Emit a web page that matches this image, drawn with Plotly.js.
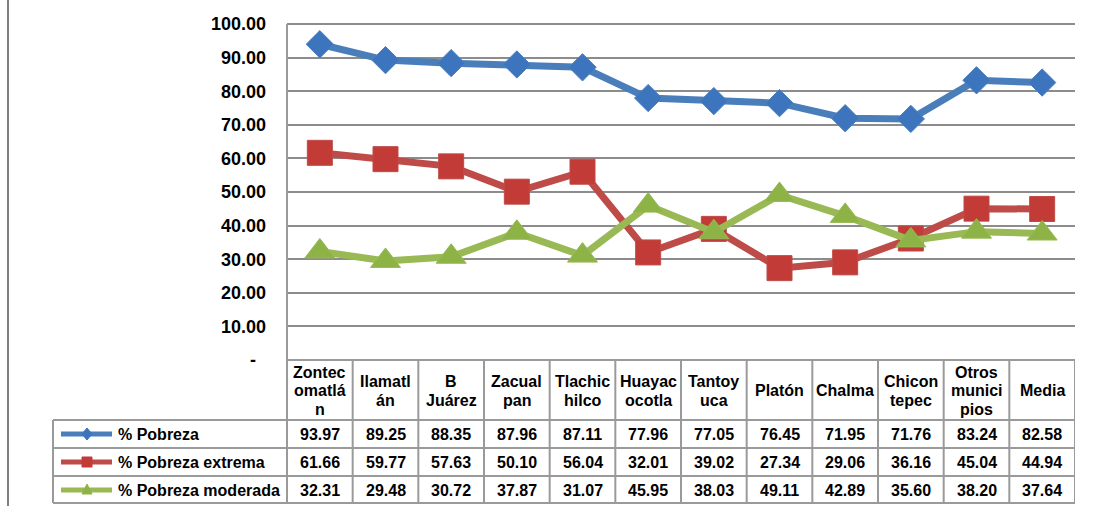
<!DOCTYPE html>
<html>
<head>
<meta charset="utf-8">
<script src="https://cdn.plot.ly/plotly-3.0.1.min.js"></script>
<style>html,body{margin:0;padding:0;background:#fff;}#chart{width:1093px;height:506px;}</style>
</head>
<body>
<div id="chart"></div>
<script>
const categories = ["Zontec<br>omatlá<br>n", "Ilamatl<br>án", "B<br>Juárez", "Zacual<br>pan", "Tlachic<br>hilco", "Huayac<br>ocotla", "Tantoy<br>uca", "Platón", "Chalma", "Chicon<br>tepec", "Otros<br>munici<br>pios", "Media"];
const seriesNames = ["% Pobreza", "% Pobreza extrema", "% Pobreza moderada"];
const pobreza  = [93.97, 89.25, 88.35, 87.96, 87.11, 77.96, 77.05, 76.45, 71.95, 71.76, 83.24, 82.58];
const extrema  = [61.66, 59.77, 57.63, 50.10, 56.04, 32.01, 39.02, 27.34, 29.06, 36.16, 45.04, 44.94];
const moderada = [32.31, 29.48, 30.72, 37.87, 31.07, 45.95, 38.03, 49.11, 42.89, 35.60, 38.20, 37.64];
const yTickVals = [0, 10, 20, 30, 40, 50, 60, 70, 80, 90, 100];
const yTickText = ["-\u00a0\u00a0", "10.00", "20.00", "30.00", "40.00", "50.00", "60.00", "70.00", "80.00", "90.00", "100.00"];

const W = 1093, H = 506;
const PL = 287, PR = 1075, PT = 24, PB = 360;
const px = v => (v - PL) / (PR - PL);
const py = v => (PB - v) / (PB - PT);
const FONT = "Liberation Sans, Arial, sans-serif";
const GRID = "#8c8c8c";
const TBL = "#9a9a9a";

const colors = ["#4A7EBB", "#BE4B48", "#98B954"];
const mColors = ["#3D74BE", "#C23B36", "#8DB347"];
const symbols = ["diamond", "square", "triangle-up"];
const msizes = [21, 25, 26];
const allSeries = [pobreza, extrema, moderada];
const idx = categories.map((c, i) => i);

const traces = allSeries.map((s, k) => ({
  type: "scatter", mode: "lines+markers", x: idx, y: s, name: seriesNames[k],
  line: {color: colors[k], width: 7},
  marker: {symbol: symbols[k], size: msizes[k], color: mColors[k], line: {color: colors[k], width: 1}},
  cliponaxis: false, hoverinfo: "skip"
}));

const shapes = [];
const annotations = [];
shapes.push({type: "line", xref: "paper", yref: "paper", x0: 0, x1: 1, y0: 1, y1: 1, line: {color: GRID, width: 2}});
shapes.push({type: "line", xref: "paper", yref: "paper", x0: 0, x1: 0, y0: 1, y1: py(503), line: {color: TBL, width: 2}});
shapes.push({type: "line", xref: "paper", yref: "paper", x0: 0, x1: 1, y0: 0, y1: 0, line: {color: TBL, width: 2}});
[420, 448, 476, 503].forEach(r => shapes.push({type: "line", xref: "paper", yref: "paper", x0: px(53), x1: 1, y0: py(r), y1: py(r), line: {color: TBL, width: 2}}));
shapes.push({type: "line", xref: "paper", yref: "paper", x0: px(53), x1: px(53), y0: py(420), y1: py(503), line: {color: TBL, width: 2}});
idx.forEach(i => shapes.push({type: "line", xref: "x", yref: "paper", x0: i + 0.5, x1: i + 0.5, y0: 0, y1: py(503), line: {color: TBL, width: 2}}));
shapes.push({type: "line", xref: "paper", yref: "paper", x0: px(8), x1: px(8), y0: py(0), y1: py(506), line: {color: "#808080", width: 2}});

const headerCenter = 391, lineH = 18.5;
categories.forEach((c, i) => {
  const lines = c.split("<br>");
  lines.forEach((t, j) => {
    const cy = headerCenter + (j - (lines.length - 1) / 2) * lineH;
    annotations.push({xref: "x", yref: "paper", x: i, y: py(cy), text: "<b>" + t + "</b>", showarrow: false,
      xanchor: "center", yanchor: "middle", font: {family: FONT, size: 16, color: "#000"}});
  });
});
const rowCenters = [434, 462, 490];
allSeries.forEach((s, k) => {
  s.forEach((v, i) => annotations.push({xref: "x", yref: "paper", x: i, y: py(rowCenters[k]), text: "<b>" + v.toFixed(2) + "</b>",
    showarrow: false, xanchor: "center", yanchor: "middle", font: {family: FONT, size: 16, color: "#000"}}));
  annotations.push({xref: "paper", yref: "paper", x: px(116), y: py(rowCenters[k]), text: "<b>" + seriesNames[k] + "</b>",
    showarrow: false, xanchor: "left", yanchor: "middle", font: {family: FONT, size: 16, color: "#000"}});
  const ry = rowCenters[k];
  shapes.push({type: "line", xref: "paper", yref: "paper", x0: px(61), x1: px(112), y0: py(ry), y1: py(ry), line: {color: colors[k], width: 5}});
  let path;
  const cx = 87;
  if (k === 0) path = `M ${px(cx)},${py(ry - 6)} L ${px(cx + 5)},${py(ry)} L ${px(cx)},${py(ry + 6)} L ${px(cx - 5)},${py(ry)} Z`;
  else if (k === 1) path = `M ${px(cx - 5)},${py(ry - 5)} L ${px(cx + 5)},${py(ry - 5)} L ${px(cx + 5)},${py(ry + 5)} L ${px(cx - 5)},${py(ry + 5)} Z`;
  else path = `M ${px(cx)},${py(ry - 6)} L ${px(cx + 5)},${py(ry + 4)} L ${px(cx - 5)},${py(ry + 4)} Z`;
  shapes.push({type: "path", xref: "paper", yref: "paper", path: path, fillcolor: mColors[k], line: {color: mColors[k], width: 1}});
});

const layout = {
  width: W, height: H,
  margin: {l: PL, r: W - PR, t: PT, b: H - PB, pad: 0},
  paper_bgcolor: "#fff", plot_bgcolor: "#fff",
  showlegend: false,
  xaxis: {range: [-0.5, 11.5], showticklabels: false, showgrid: false, zeroline: false, showline: false, ticks: "", fixedrange: true},
  yaxis: {range: [0, 100], tickvals: yTickVals, ticktext: yTickText, showgrid: true, gridcolor: GRID, gridwidth: 2,
    zeroline: false, showline: false, ticks: "", ticklabelstandoff: 20,
    tickfont: {family: FONT, size: 18, color: "#000", weight: "bold"}, fixedrange: true},
  shapes: shapes,
  annotations: annotations
};
Plotly.newPlot("chart", traces, layout, {displayModeBar: false, staticPlot: true});
</script>
</body>
</html>
